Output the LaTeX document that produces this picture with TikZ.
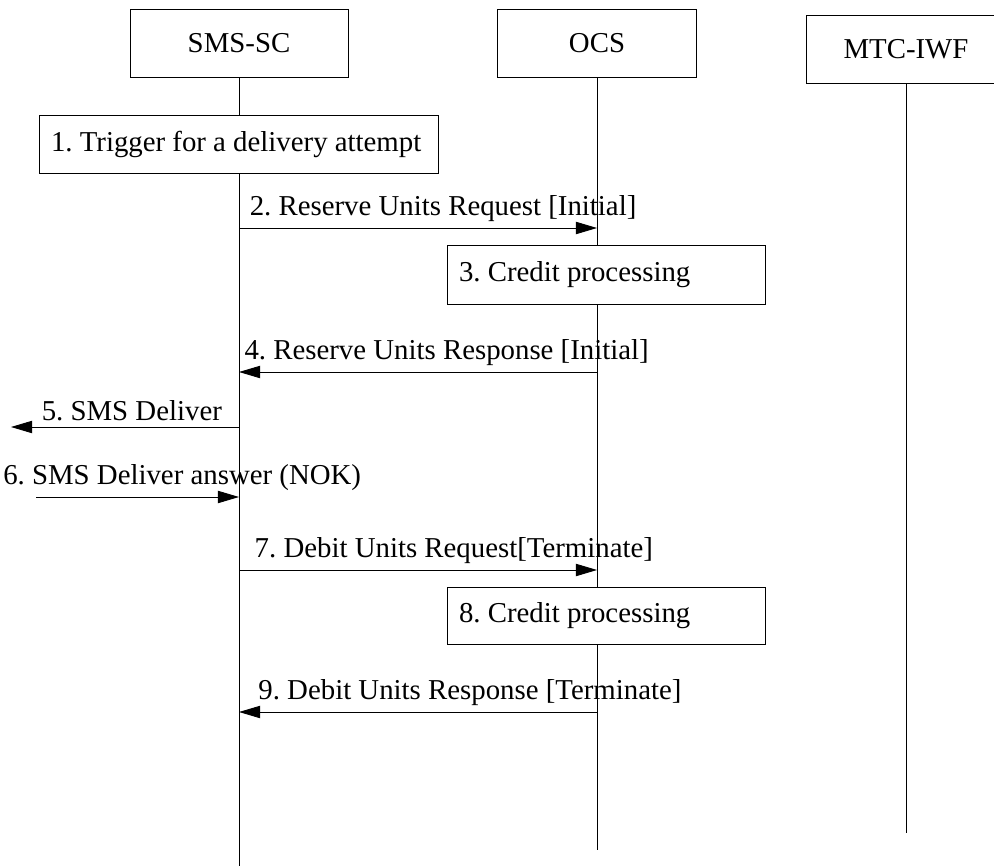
\documentclass[tikz,border=0pt]{standalone}
\usepackage{fontspec}
\setmainfont{Liberation Serif}
\usetikzlibrary{arrows.meta}
\frenchspacing

\tikzset{
	entity/.style={draw, rectangle, fill=white, minimum height=1.36cm, inner sep=0pt},
	action/.style={draw, rectangle, fill=white, align=flush left, inner xsep=0.24cm, inner ysep=0pt},
	msg/.style={->, line width=0.5pt},
	lifeline/.style={line width=0.5pt}
}

\begin{document}
\begin{tikzpicture}[>={Triangle[length=12pt,width=7pt]}, font=\fontsize{16.4}{19}\selectfont, line width=0.5pt]

	\useasboundingbox (0,0) rectangle (19.88,-17.32);

	\node[entity, minimum width=4.36cm] (SmsSc) at (4.78,-0.87) {SMS-SC};
	\node[entity, minimum width=3.98cm] (Ocs) at (11.94,-0.87) {OCS};
	\node[entity, minimum width=4.0cm] (MtcIwf) at (18.12,-0.99) {MTC-IWF};

	\coordinate (SmsScEnd) at (4.78,-17.32);
	\coordinate (OcsEnd) at (11.94,-17.0);
	\coordinate (MtcIwfEnd) at (18.12,-16.66);

	\draw[lifeline] (SmsSc.south) -- (SmsScEnd);
	\draw[lifeline] (Ocs.south) -- (OcsEnd);
	\draw[lifeline] (MtcIwf.south) -- (MtcIwfEnd);

	\node[action, text width=7.5cm, minimum height=1.16cm] (Trigger) at (4.77,-2.88) {1. Trigger for a delivery attempt};
	\node[action, text width=5.88cm, minimum height=1.18cm] (Credit1) at (12.12,-5.49) {3. Credit processing};
	\node[action, text width=5.88cm, minimum height=1.14cm] (Credit2) at (12.12,-12.31) {8. Credit processing};

	% message rows
	\coordinate (m2) at (0,-4.56);
	\coordinate (m4) at (0,-7.44);
	\coordinate (m5) at (0.22,-8.54);
	\coordinate (m6) at (0.72,-9.94);
	\coordinate (m7) at (0,-11.4);
	\coordinate (m9) at (0,-14.24);

	\draw[msg] (m2 -| SmsSc) -- node[above, pos=0.57]{2. Reserve Units Request [Initial]} (m2 -| Ocs);
	\draw[msg] (m4 -| Ocs) -- node[above, pos=0.42]{4. Reserve Units Response [Initial]} (m4 -| SmsSc);
	\draw[msg] (m5 -| SmsSc) -- node[above, pos=0.47]{5. SMS Deliver} (m5);
	\draw[msg] (m6) -- node[above, pos=0.72]{6. SMS Deliver answer (NOK)} (m6 -| SmsSc);
	\draw[msg] (m7 -| SmsSc) -- node[above, pos=0.6]{7. Debit Units Request[Terminate]} (m7 -| Ocs);
	\draw[msg] (m9 -| Ocs) -- node[above, pos=0.355]{9. Debit Units Response [Terminate]} (m9 -| SmsSc);

\end{tikzpicture}
\end{document}
